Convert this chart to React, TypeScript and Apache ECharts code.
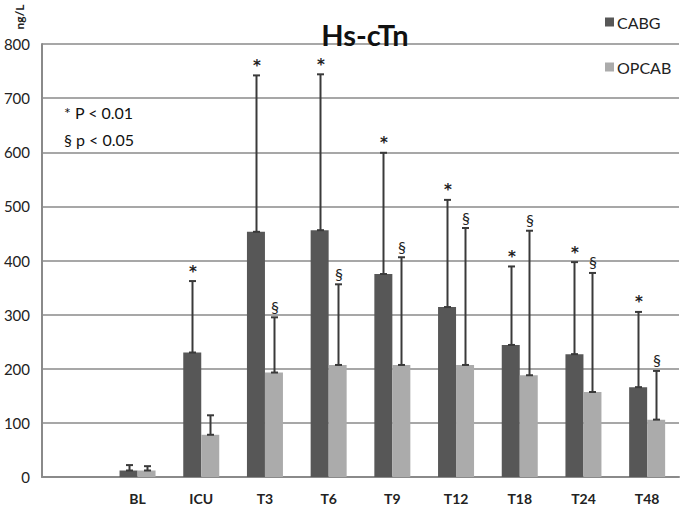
import React, { useEffect, useRef } from "react";
import * as echarts from "echarts";

const categories = ["", "BL", "ICU", "T3", "T6", "T9", "T12", "T18", "T24", "T48"];
const cabgValues = [null, 12, 230, 453, 456, 375, 314, 244, 227, 166];
const cabgErrTop = [null, 22, 362, 742, 744, 599, 512, 389, 397, 305];
const opcabValues = [null, 12, 78, 193, 207, 207, 207, 188, 157, 106];
const opcabErrTop = [null, 20, 114, 295, 356, 406, 460, 455, 377, 196];
const cabgMarks = ["", "", "*", "*", "*", "*", "*", "*", "*", "*"];
const opcabMarks = ["", "", "", "§", "§", "§", "§", "§", "§", "§"];
const yTicks = { min: 0, max: 800, interval: 100 };

const FONT = "Lato, 'Open Sans', sans-serif";
const BAR_W = 18;

function errSeries(name: string, values: (number | null)[], tops: (number | null)[], marks: string[], offset: number) {
  const data = values.map((v, i) => (v == null ? [i, null, null, ""] : [i, v, tops[i], marks[i]]));
  return {
    type: "custom",
    name: name + "-err",
    z: 5,
    silent: true,
    encode: { x: 0, y: [1, 2] },
    data,
    renderItem: (params: any, api: any) => {
      const v = api.value(1);
      const t = api.value(2);
      if (v == null || isNaN(v)) return null;
      const i = api.value(0);
      const p0 = api.coord([i, v]);
      const p1 = api.coord([i, t]);
      const x = Math.round(p0[0] + offset) + 0.5;
      const mark = data[params.dataIndex][3] as string;
      const stroke = { stroke: "#3a3a3a", lineWidth: 2 };
      const children: any[] = [
        { type: "line", shape: { x1: x, y1: p0[1], x2: x, y2: p1[1] }, style: stroke },
        { type: "line", shape: { x1: x - 3.5, y1: p1[1], x2: x + 3.5, y2: p1[1] }, style: stroke },
        { type: "line", shape: { x1: x - 3.5, y1: p0[1], x2: x + 3.5, y2: p0[1] }, style: stroke },
      ];
      if (mark) {
        const star = mark === "*";
        children.push({
          type: "text",
          style: {
            text: mark,
            x: x + 0.5,
            y: p1[1] - (star ? 2 : 3),
            textAlign: "center",
            textVerticalAlign: "bottom",
            fontSize: star ? 15 : 16,
            fontWeight: star ? "bold" : "normal",
            fontFamily: star ? "'DejaVu Sans', sans-serif" : FONT,
            fill: "#222",
          },
        });
      }
      return { type: "group", children };
    },
  };
}

export default function App() {
  const ref = useRef<HTMLDivElement>(null);
  useEffect(() => {
    if (!ref.current) return;
    const chart = echarts.init(ref.current, null, { renderer: "svg" });
    chart.setOption({
      animation: false,
      backgroundColor: "#ffffff",
      title: {
        text: "Hs-cTn",
        left: 360,
        textAlign: "center",
        top: 15,
        textStyle: { fontSize: 29, fontWeight: "bold", color: "#111", fontFamily: FONT },
      },
      legend: {
        orient: "vertical",
        left: 600,
        top: 9,
        itemWidth: 9,
        itemHeight: 9,
        itemGap: 29,
        icon: "rect",
        data: ["CABG", "OPCAB"],
        textStyle: { fontSize: 16, color: "#222", fontFamily: FONT, padding: [0, 0, 0, -2] },
      },
      graphic: [
        {
          type: "text",
          x: 19,
          y: 17,
          rotation: Math.PI / 2,
          style: {
            text: "ng/L",
            fontSize: 12,
            fontWeight: "bold",
            fill: "#222",
            fontFamily: FONT,
            textAlign: "center",
            textVerticalAlign: "middle",
          },
        },
        {
          type: "text",
          x: 64,
          y: 104,
          style: { text: "* P < 0.01", fontSize: 16, fill: "#111", fontFamily: FONT },
        },
        {
          type: "text",
          x: 64,
          y: 131,
          style: { text: "§ p < 0.05", fontSize: 16, fill: "#111", fontFamily: FONT },
        },
      ],
      grid: { left: 42, right: 6, top: 44, bottom: 31, containLabel: false },
      xAxis: {
        type: "category",
        data: categories,
        axisLine: { show: true, lineStyle: { color: "#8a8a8a", width: 2 } },
        axisTick: { show: false },
        axisLabel: { fontSize: 14, fontWeight: "bold", color: "#222", margin: 14, fontFamily: FONT, interval: 0 },
      },
      yAxis: {
        type: "value",
        min: yTicks.min,
        max: yTicks.max,
        interval: yTicks.interval,
        axisLine: { show: true, lineStyle: { color: "#8a8a8a", width: 2 } },
        axisTick: { show: false },
        splitLine: { lineStyle: { color: "#8a8a8a", width: 1.5 } },
        axisLabel: { fontSize: 15, color: "#222", margin: 12, fontFamily: FONT },
      },
      series: [
        {
          name: "CABG",
          type: "bar",
          data: cabgValues,
          barWidth: BAR_W,
          barGap: "0%",
          itemStyle: { color: "#575757" },
        },
        {
          name: "OPCAB",
          type: "bar",
          data: opcabValues,
          barWidth: BAR_W,
          barGap: "0%",
          itemStyle: { color: "#ababab" },
        },
        errSeries("CABG", cabgValues, cabgErrTop, cabgMarks, -BAR_W / 2),
        errSeries("OPCAB", opcabValues, opcabErrTop, opcabMarks, BAR_W / 2),
      ],
    });
    return () => chart.dispose();
  }, []);
  return <div ref={ref} style={{ width: 685, height: 508, position: "absolute", left: 0, top: 0 }} />;
}
